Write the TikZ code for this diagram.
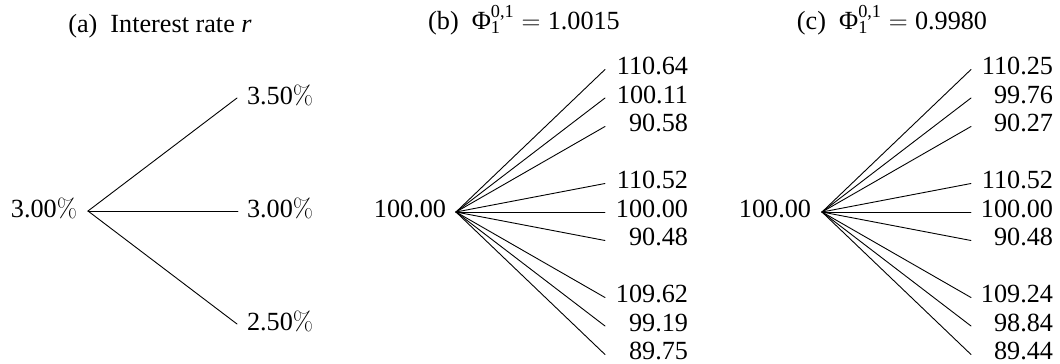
\RequirePackage{fix-cm}
\documentclass[tikz,border=0pt]{standalone}
\usepackage[no-math]{fontspec}
\setmainfont{Liberation Serif}
\newcommand\scrtxt[1]{\hbox{\fontsize{18.3}{20}\selectfont #1}}
\begin{document}
\begin{tikzpicture}[x=1pt,y=-1pt,
  font=\fontsize{26.2}{31}\selectfont,
  lbl/.style={inner sep=0pt, outer sep=0pt},
  branch/.style={line width=0.9pt, line cap=round}]
\useasboundingbox (0,0) rectangle (1060,364);

% ---------- titles ----------
\node[lbl, anchor=base] (ta) at (160,32) {(a)\enspace Interest rate \textit{r}};
\node[lbl, anchor=base] (tb) at (524,29) {(b)\enspace Φ$_{\scrtxt{1}}^{\scrtxt{0,1}} = {}$1.0015};
\node[lbl, anchor=base] (tc) at (892,29) {(c)\enspace Φ$_{\scrtxt{1}}^{\scrtxt{0,1}} = {}$0.9980};

% ---------- (a) interest rate ----------
\coordinate (ra) at (88,211);
\node[lbl, anchor=base east] (ral) at (77,217) {3.00$\%$};
\coordinate (ea1) at (237,98);
\coordinate (ea2) at (238,211);
\coordinate (ea3) at (237,324);
\node[lbl, anchor=base west] (la1) at (247,104) {3.50$\%$};
\node[lbl, anchor=base west] (la2) at (247,217) {3.00$\%$};
\node[lbl, anchor=base west] (la3) at (247,330) {2.50$\%$};
\foreach \i in {1,2,3} \draw[branch] (ra) -- (ea\i);

% ---------- (b) ----------
\coordinate (rb) at (456,212);
\node[lbl, anchor=base east] (rbl) at (446,217) {100.00};
\foreach \k/\t [count=\i] in {-5/110.64,-4/100.11,-3/90.58,-1/110.52,0/100.00,1/90.48,3/109.62,4/99.19,5/89.75}{
  \coordinate (eb\i) at (605,212+28.5*\k);
  \node[lbl, anchor=base east] (lb\i) at (688,217+28.5*\k) {\t};
  \draw[branch] (rb) -- (eb\i);
}

% ---------- (c) ----------
\coordinate (rc) at (822,212);
\node[lbl, anchor=base east] (rcl) at (811,217) {100.00};
\foreach \k/\t [count=\i] in {-5/110.25,-4/99.76,-3/90.27,-1/110.52,0/100.00,1/90.48,3/109.24,4/98.84,5/89.44}{
  \coordinate (ec\i) at (971,212+28.5*\k);
  \node[lbl, anchor=base east] (lc\i) at (1053,217+28.5*\k) {\t};
  \draw[branch] (rc) -- (ec\i);
}
\end{tikzpicture}
\end{document}
